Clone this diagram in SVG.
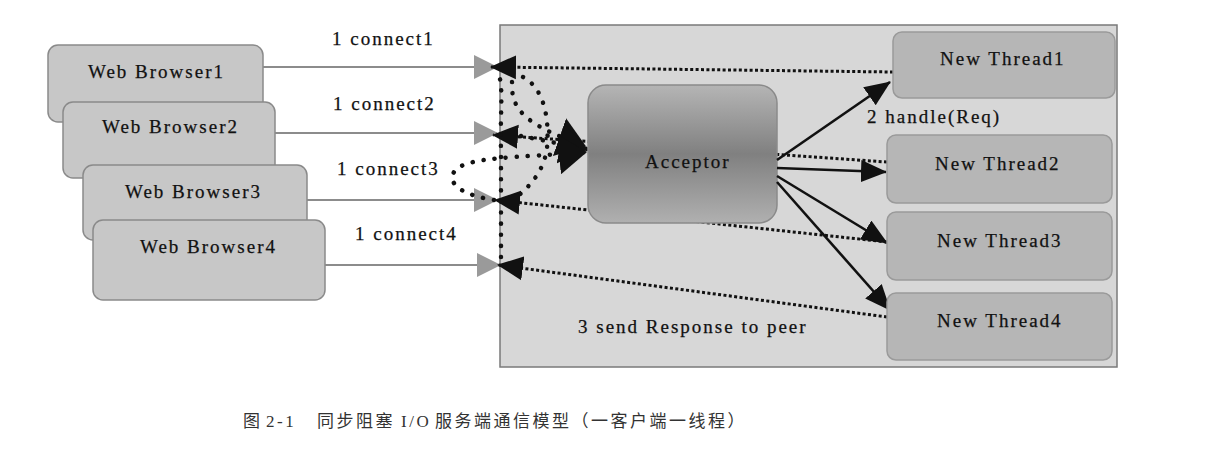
<svg xmlns="http://www.w3.org/2000/svg" width="1217" height="455" viewBox="0 0 1217 455">
<style>
.bg{fill:#ffffff}
.server{fill:#d7d7d7;stroke:#7a7a7a;stroke-width:1.5}
.browser{fill:#c7c7c7;stroke:#8a8a8a;stroke-width:1.5}
.thread{fill:#b6b6b6;stroke:#9a9a9a;stroke-width:1.5}
.acceptor{fill:url(#accGrad);stroke:#8a8a8a;stroke-width:1.5}
.lbl{font-family:"Liberation Serif","Times New Roman",serif;font-size:19px;letter-spacing:2px;fill:#111;stroke:#111;stroke-width:0.25}
.cap{font-family:"Liberation Serif","Noto Sans CJK SC",serif;font-size:17px;fill:#333;letter-spacing:2.5px}
.req{fill:none;stroke:#8c8c8c;stroke-width:2;marker-end:url(#grayHead)}
.resp{fill:none;stroke:#111;stroke-width:3;stroke-dasharray:3 2.4;marker-end:url(#blackHeadL)}
.curve{fill:none;stroke:#111;stroke-width:4.5;stroke-linecap:round;stroke-dasharray:0.1 11}
.curveA{fill:none;stroke:#111;stroke-width:4.5;stroke-linecap:round;stroke-dasharray:0.1 11;marker-end:url(#blobHead)}
.handle{fill:none;stroke:#111;stroke-width:2.6;marker-end:url(#blackHead)}
</style>
<defs>
<linearGradient id="accGrad" x1="0" y1="0" x2="0" y2="1">
<stop offset="0" stop-color="#b5b5b5"/>
<stop offset="0.5" stop-color="#808080"/>
<stop offset="1" stop-color="#b0b0b0"/>
</linearGradient>
<marker id="grayHead" viewBox="0 0 24 24" markerUnits="userSpaceOnUse" markerWidth="24" markerHeight="24" refX="23" refY="12" orient="auto">
<path d="M0,0 L24,12 L0,24 z" fill="#9a9a9a"/>
</marker>
<marker id="blackHeadL" viewBox="0 0 26 26" markerUnits="userSpaceOnUse" markerWidth="26" markerHeight="26" refX="25" refY="13" orient="auto">
<path d="M0,1 L26,13 L0,25 z" fill="#111"/>
</marker>
<marker id="blackHead" viewBox="0 0 26 22" markerUnits="userSpaceOnUse" markerWidth="26" markerHeight="22" refX="25" refY="11" orient="auto">
<path d="M0,0 L26,11 L0,22 z" fill="#111"/>
</marker>
<marker id="blobHead" viewBox="0 0 28 40" markerUnits="userSpaceOnUse" markerWidth="28" markerHeight="40" refX="27" refY="20" orient="auto">
<path d="M0,0 L28,20 L0,40 z" fill="#111"/>
</marker>
</defs>
<rect class="bg" x="0" y="0" width="1217" height="455"/>

<g id="server">
<rect class="server" x="500" y="25" width="617" height="342"/>
</g>

<g id="browser1"><rect class="browser" x="48" y="45" width="215" height="77" rx="10"/><text class="lbl" x="88" y="78">Web Browser1</text></g>
<g id="browser2"><rect class="browser" x="63" y="102" width="212" height="76" rx="10"/><text class="lbl" x="102" y="133">Web Browser2</text></g>
<g id="browser3"><rect class="browser" x="83" y="165" width="224" height="75" rx="10"/><text class="lbl" x="125" y="198">Web Browser3</text></g>
<g id="browser4"><rect class="browser" x="93" y="220" width="232" height="80" rx="10"/><text class="lbl" x="140" y="253">Web Browser4</text></g>

<g id="connectors">
<path class="req" d="M263,67 L497,67"/>
<path class="req" d="M275,133 L497,133"/>
<path class="req" d="M307,200 L497,200"/>
<path class="req" d="M325,265 L500,265"/>
<path class="resp" d="M893,72 L491,67"/>
<path class="resp" d="M887,162 L493,135"/>
<path class="resp" d="M887,242 L495,200"/>
<path class="resp" d="M887,317 L498,265"/>
<path class="curve" d="M501,257 L501,150 C500,115 503,95 500,79"/>
<path class="curve" d="M523,77 C547,90 549,125 547,148 C544,170 532,184 518,196"/>
<path class="curveA" d="M512,82 C511,108 522,124 585,146"/>
<path class="curveA" d="M521,136 L587,149"/>
<path class="curveA" d="M494,200 C468,196 446,186 454,172 C464,156 520,158 586,152"/>
</g>

<g id="acceptor">
<rect class="acceptor" x="588" y="85" width="189" height="138" rx="18"/>
<text class="lbl" x="645" y="168">Acceptor</text>
</g>

<g id="handles">
<path class="handle" d="M777,160 L890,82"/>
<path class="handle" d="M777,168 L886,172"/>
<path class="handle" d="M777,176 L887,243"/>
<path class="handle" d="M777,182 L890,310"/>
</g>

<g id="thread1"><rect class="thread" x="893" y="32" width="222" height="66" rx="9"/><text class="lbl" x="940" y="65">New Thread1</text></g>
<g id="thread2"><rect class="thread" x="887" y="135" width="225" height="68" rx="9"/><text class="lbl" x="935" y="170">New Thread2</text></g>
<g id="thread3"><rect class="thread" x="887" y="212" width="225" height="68" rx="9"/><text class="lbl" x="937" y="247">New Thread3</text></g>
<g id="thread4"><rect class="thread" x="887" y="293" width="225" height="67" rx="9"/><text class="lbl" x="937" y="327">New Thread4</text></g>

<g id="labels">
<text class="lbl" x="332" y="45">1 connect1</text>
<text class="lbl" x="333" y="110">1 connect2</text>
<text class="lbl" x="337" y="175">1 connect3</text>
<text class="lbl" x="355" y="240">1 connect4</text>
<text class="lbl" x="867" y="123">2 handle(Req)</text>
<text class="lbl" x="578" y="333">3 send Response to peer</text>
</g>

<g id="caption">
<text class="cap" x="243" y="427">图</text>
<text class="cap" x="266" y="427">2-1</text>
<text class="cap" x="317" y="427">同步阻塞</text>
<text class="cap" x="401" y="427">I/O</text>
<text class="cap" x="435" y="427">服务端通信模型（一客户端一线程）</text>
</g>
</svg>
